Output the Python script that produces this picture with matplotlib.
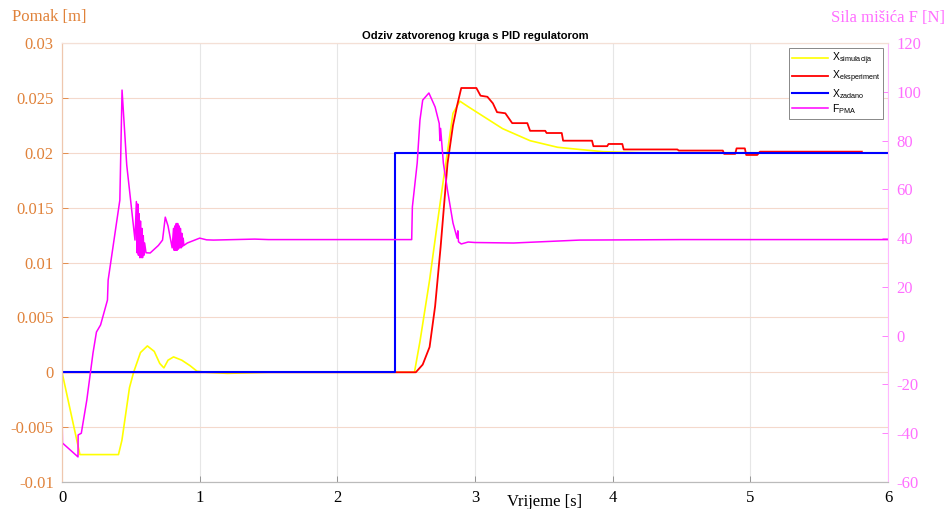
import matplotlib
matplotlib.use('Agg')
import matplotlib.pyplot as plt

plt.rcParams['axes.unicode_minus'] = False
plt.rcParams['mathtext.fontset'] = 'custom'
plt.rcParams['mathtext.rm'] = 'Liberation Sans'

# x_simulacija [m]
t_sim = [0, 0.13, 0.41, 0.435, 0.49, 0.52, 0.57, 0.62, 0.67, 0.71, 0.74, 0.77, 0.81, 0.87,
         0.93, 0.98, 1.05, 1.2, 1.5, 2.56, 2.6, 2.67, 2.72, 2.77, 2.84, 2.89, 2.95, 3.05,
         3.2, 3.4, 3.6, 3.76, 3.93, 4.2, 6.0]
x_sim = [0, -0.0075, -0.0075, -0.0062, -0.0014, 0.0, 0.0018, 0.0024, 0.0019, 0.0008, 0.0004,
         0.0011, 0.0014, 0.0011, 0.0006, 0.0001, 0.0, -0.0001, 0.0, 0.0, 0.0028, 0.0084,
         0.013, 0.0175, 0.0236, 0.0247, 0.0242, 0.0234, 0.0222, 0.0211, 0.0205, 0.0203,
         0.0201, 0.0200, 0.0200]

# x_eksperiment [m]
t_exp = [0, 2.57, 2.62, 2.67, 2.71, 2.75, 2.80, 2.84, 2.87, 2.90, 3.01, 3.04, 3.09, 3.13,
         3.16, 3.22, 3.27, 3.38, 3.40, 3.51, 3.52, 3.63, 3.64, 3.85, 3.86, 3.96, 3.97, 4.07,
         4.08, 4.47, 4.48, 4.80, 4.81, 4.89, 4.90, 4.96, 4.97, 5.05, 5.07, 5.81]
x_exp = [0, 0, 0.0007, 0.0023, 0.006, 0.0114, 0.019, 0.0225, 0.0243, 0.0259, 0.0259, 0.0252,
         0.0251, 0.0245, 0.0237, 0.0236, 0.0227, 0.0227, 0.0220, 0.0220, 0.0218, 0.0218,
         0.0211, 0.0211, 0.0206, 0.0206, 0.0208, 0.0208, 0.0203, 0.0203, 0.0202, 0.0202,
         0.0199, 0.0199, 0.0204, 0.0204, 0.0198, 0.0198, 0.0201, 0.0201]

# x_zadano [m]
t_ref = [0, 2.42, 2.42, 6.0]
x_ref = [0, 0, 0.02, 0.02]

# F_PMA [N]
t_f = [0, 0.003, 0.116, 0.117, 0.14, 0.18, 0.225, 0.25, 0.28, 0.33, 0.335, 0.42, 0.436, 0.47,
       0.53, 0.54, 0.545, 0.55, 0.555, 0.56, 0.565, 0.57, 0.575, 0.58, 0.585, 0.59, 0.595,
       0.60, 0.61, 0.64, 0.70, 0.73, 0.75, 0.77, 0.80, 0.81, 0.815, 0.82, 0.825, 0.83, 0.835,
       0.84, 0.845, 0.85, 0.855, 0.86, 0.865, 0.87, 0.875, 0.88, 0.885, 0.91, 1.0, 1.05,
       1.1, 1.4, 1.5, 2.54, 2.545, 2.58, 2.60, 2.62, 2.665, 2.71, 2.74, 2.745, 2.75, 2.77,
       2.80, 2.84, 2.87, 2.875, 2.88, 2.90, 2.95, 3.0, 3.28, 3.76, 4.5, 6.0]
f_pma = [-30, -44, -49.7, -40.7, -40, -26.4, -7.1, 1.5, 4.4, 14.6, 22.8, 55.6, 100.7, 70,
         39.2, 55, 34, 54, 33, 50, 32, 47, 32, 44, 32, 41, 33, 38, 34, 33.9, 37, 39.2, 48.6,
         45, 36, 44, 35, 45, 35, 46, 35, 46, 35.5, 45, 36, 44, 36, 42, 36.5, 40, 37, 38, 40,
         39.3, 39.2, 39.6, 39.4, 39.4, 52.8, 70.8, 88.4, 96.6, 99.5, 93.8, 87, 80, 85, 70.8,
         59.7, 46.2, 40, 43, 38.5, 37.6, 38.4, 38.2, 38.0, 39.2, 39.4, 39.4]

left_color = '#E0823A'
right_color = '#FF6EFF'
serif = ['Liberation Serif', 'DejaVu Serif']
sans = ['Liberation Sans', 'DejaVu Sans']

fig = plt.figure(figsize=(9.47, 5.09), dpi=100)
ax = fig.add_axes([0.0655, 0.053, 0.8722, 0.8625])
ax2 = ax.twinx()

l1, = ax.plot(t_sim, x_sim, color='#FFFF00', lw=1.2)
l2, = ax.plot(t_exp, x_exp, color='#FF0000', lw=1.3)
l3, = ax.plot(t_ref, x_ref, color='#0000FF', lw=1.5)
l4, = ax2.plot(t_f, f_pma, color='#FF00FF', lw=1.1)

ax.set_xlim(0, 6)
ax.set_ylim(-0.01, 0.03)
ax2.set_ylim(-60, 120)

ax.set_xticks(range(0, 7))
ax.set_yticks([-0.01, -0.005, 0, 0.005, 0.01, 0.015, 0.02, 0.025, 0.03])
ax.set_yticklabels(['-0.01', '-0.005', '0', '0.005', '0.01', '0.015', '0.02', '0.025', '0.03'])
ax2.set_yticks(range(-60, 121, 20))

for lab in ax.get_xticklabels():
    lab.set_fontfamily(serif)
    lab.set_fontsize(12)
for lab in ax.get_yticklabels():
    lab.set_fontfamily(serif)
    lab.set_fontsize(12)
    lab.set_color(left_color)
for lab in ax2.get_yticklabels():
    lab.set_fontfamily(serif)
    lab.set_fontsize(12)
    lab.set_color(right_color)

ax.tick_params(axis='both', direction='in', length=4, width=0.6)
ax.tick_params(axis='y', colors=left_color, labelcolor=left_color, pad=6)
ax.tick_params(axis='x', colors='#888888', labelcolor='black', pad=6)
ax2.tick_params(axis='y', direction='in', length=4, width=0.6, colors=right_color,
                labelcolor=right_color, pad=6)

# grid
ax.grid(True, axis='y', color='#F4D9CC', lw=0.8)
ax.grid(True, axis='x', color='#E6E6E6', lw=0.8)
ax.set_axisbelow(True)

ax.spines['bottom'].set_color('#BBBBBB')
ax2.spines['bottom'].set_color('#BBBBBB')
ax.spines['top'].set_color('#F4E0D6')
ax2.spines['top'].set_color('#F4E0D6')
ax.spines['left'].set_color('#EFC7AE')
ax2.spines['left'].set_color('#EFC7AE')
ax2.spines['right'].set_color('#FFB8FF')
ax.spines['right'].set_visible(False)
for s in list(ax.spines.values()) + list(ax2.spines.values()):
    s.set_linewidth(0.8)

ax.set_title('Odziv zatvorenog kruga s PID regulatorom', fontsize=8, fontweight='bold',
             family=sans, pad=3)

fig.text(12 / 947, 1 - 17 / 509, 'Pomak [m]', color=left_color, fontsize=12,
         family=serif, ha='left', va='center')
fig.text(945 / 947, 1 - 18 / 509, 'Sila mišića F [N]', color=right_color, fontsize=12,
         family=serif, ha='right', va='center')
fig.text(545 / 947, 1 - 502 / 509, 'Vrijeme [s]', color='black', fontsize=12,
         family=serif, ha='center', va='center')

handles = [l1, l2, l3, l4]
labels = [r'X$_{\mathregular{simulacija}}$', r'X$_{\mathregular{eksperiment}}$',
          r'X$_{\mathregular{zadano}}$', r'F$_{\mathregular{PMA}}$']
leg = ax2.legend(handles, labels, loc='upper right', fancybox=False, framealpha=1,
                 edgecolor='#888888', prop={'family': sans, 'size': 7.5},
                 handlelength=3.4, borderaxespad=0.45, labelspacing=0.15,
                 borderpad=0.3, handletextpad=0.4)
leg.get_frame().set_linewidth(0.7)

fig.savefig('out.png', dpi=100, facecolor='white')
